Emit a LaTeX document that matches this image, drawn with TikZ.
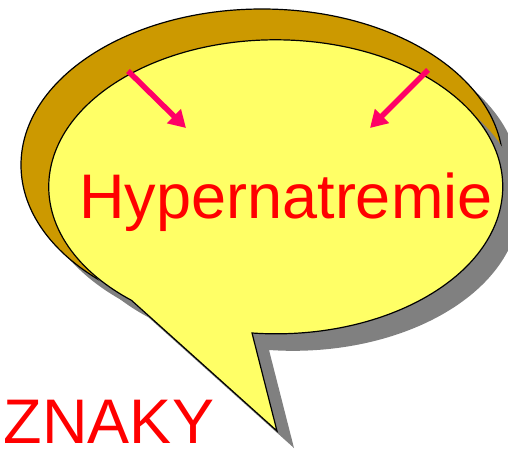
\documentclass[tikz,border=0pt]{standalone}
\usepackage{fontspec}
\setmainfont{Liberation Sans}
\usetikzlibrary{arrows.meta}
\definecolor{goldfill}{HTML}{CC9900}
\definecolor{bubblefill}{HTML}{FFFF66}
\definecolor{shadowgray}{HTML}{808080}
\definecolor{arrowpink}{HTML}{FF0066}
\definecolor{textred}{HTML}{FF0000}
\newcommand{\goldpath}{(262,165) ellipse [x radius=241, y radius=156]}
\newcommand{\frontpath}{(277,431) -- (252,333) arc [start angle=96, end angle=-230.5, x radius=227, y radius=147] -- cycle}
\tikzset{
  outline/.style={draw=black, line width=1.2pt, line join=miter},
  shadowfill/.style={fill=shadowgray, draw=none},
  pinkarrow/.style={draw=arrowpink, line width=5.5pt, -{Triangle[length=17pt,width=19pt]}},
  bigtext/.style={text=textred, font=\fontsize{63}{63}\selectfont, inner sep=0pt}
}
\begin{document}
\begin{tikzpicture}[x=1pt, y=-1pt]
\useasboundingbox (0,0) rectangle (508,448);
% back (gold) bubble with shadow
\begin{scope}[shift={(17,17)}]
  \path[shadowfill] \goldpath;
\end{scope}
\path[outline, fill=goldfill] \goldpath;
% front bubble with shadow
\begin{scope}[shift={(17,17)}]
  \path[shadowfill] \frontpath;
\end{scope}
\path[outline, fill=bubblefill] \frontpath;
% arrows
\coordinate (a1s) at (128,71);
\coordinate (a1e) at (186,128);
\coordinate (a2s) at (428,70);
\coordinate (a2e) at (370,128);
\draw[pinkarrow] (a1s) -- (a1e);
\draw[pinkarrow] (a2s) -- (a2e);
% texts
\node[bigtext, anchor=base] (title) at (286,218) {Hypernatremie};
\node[bigtext, anchor=base] (signs) at (109,443) {ZNAKY};
\end{tikzpicture}
\end{document}
